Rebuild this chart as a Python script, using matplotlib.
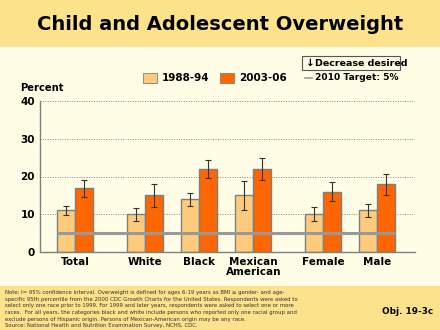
import matplotlib.pyplot as plt
from matplotlib.patches import Rectangle
from matplotlib.lines import Line2D

# ---------- DATA ----------
groups = ["Total", "White", "Black", "Mexican\nAmerican", "Female", "Male"]
group_pos = [0, 1.3, 2.3, 3.3, 4.6, 5.6]

rate_1988 = [11, 10, 14, 15, 10, 11]
low_1988 = [9.8, 8.1, 12.3, 11.2, 8.1, 9.2]
high_1988 = [12.2, 11.6, 15.6, 18.9, 11.8, 12.7]

rate_2003 = [17, 15, 22, 22, 16, 18]
low_2003 = [14.7, 11.9, 19.6, 19.0, 13.5, 15.2]
high_2003 = [19.0, 18.0, 24.3, 24.8, 18.5, 20.6]

target = 5
yticks = [0, 10, 20, 30, 40]

note = ("Note: I= 95% confidence interval. Overweight is defined for ages 6-19 years as BMI \u2265 gender- and age-\n"
        "specific 95th percentile from the 2000 CDC Growth Charts for the United States. Respondents were asked to\n"
        "select only one race prior to 1999. For 1999 and later years, respondents were asked to select one or more\n"
        "races.  For all years, the categories black and white include persons who reported only one racial group and\n"
        "exclude persons of Hispanic origin. Persons of Mexican-American origin may be any race.\n"
        "Source: National Health and Nutrition Examination Survey, NCHS, CDC.")

# ---------- STYLE ----------
BAND = "#FDE28C"
BODY = "#FFFDE6"
LIGHT = "#FDCB7B"
DARK = "#FF6600"
EDGE = "#7F7F7F"
W = 1 / 3

fig = plt.figure(figsize=(4.4, 3.3), dpi=100, facecolor=BODY)

# header and footer bands
fig.patches.append(Rectangle((0, 1 - 47 / 330), 1, 47 / 330, transform=fig.transFigure,
                             facecolor=BAND, edgecolor="none", zorder=0))
fig.patches.append(Rectangle((0, 0), 1, 44 / 330, transform=fig.transFigure,
                             facecolor=BAND, edgecolor="none", zorder=0))

fig.text(0.5, 1 - 24 / 330, "Child and Adolescent Overweight", ha="center", va="center",
         fontsize=14, fontweight="bold", color="black")

ax = fig.add_axes([40 / 440, 1 - 252 / 330, 375 / 440, 151 / 330])
ax.set_facecolor("none")

x1 = [p - W / 2 for p in group_pos]
x2 = [p + W / 2 for p in group_pos]
ax.bar(x1, rate_1988, width=W, color=LIGHT, edgecolor=EDGE, linewidth=1, zorder=2)
ax.bar(x2, rate_2003, width=W, color=DARK, edgecolor=EDGE, linewidth=1, zorder=2)

err1 = [[r - l for r, l in zip(rate_1988, low_1988)], [h - r for r, h in zip(rate_1988, high_1988)]]
err2 = [[r - l for r, l in zip(rate_2003, low_2003)], [h - r for r, h in zip(rate_2003, high_2003)]]
ax.errorbar(x1, rate_1988, yerr=err1, fmt="none", ecolor="#333333", elinewidth=0.8,
            capsize=2.2, capthick=0.8, zorder=3)
ax.errorbar(x2, rate_2003, yerr=err2, fmt="none", ecolor="#333333", elinewidth=0.8,
            capsize=2.2, capthick=0.8, zorder=3)

# 2010 target line
ax.plot([group_pos[0] - W, group_pos[-1] + W], [target, target], color="#999999",
        linewidth=2.2, zorder=4, solid_capstyle="butt")

ax.set_xlim(-0.648, 6.296)
ax.set_ylim(0, 40)
ax.set_yticks(yticks)
ax.set_yticklabels([str(t) for t in yticks], fontsize=7.5, fontweight="bold")
ax.set_xticks(group_pos)
ax.set_xticklabels(groups, fontsize=7.5, fontweight="bold", linespacing=0.95)
ax.tick_params(axis="both", length=0, pad=3.6)
ax.yaxis.grid(True, linestyle=(0, (1, 1.5)), color="#888888", linewidth=0.7, zorder=1)
ax.set_axisbelow(True)
for side in ["top", "right"]:
    ax.spines[side].set_visible(False)
for side in ["left", "bottom"]:
    ax.spines[side].set_color(EDGE)
    ax.spines[side].set_linewidth(1)

fig.text(20 / 440, 1 - 88 / 330, "Percent", ha="left", va="center", fontsize=7.2, fontweight="bold")

# legend
fig.patches.append(Rectangle((143 / 440, 1 - 83 / 330), 14 / 440, 10 / 330, transform=fig.transFigure,
                             facecolor=LIGHT, edgecolor=EDGE, linewidth=0.6))
fig.text(162 / 440, 1 - 78 / 330, "1988-94", ha="left", va="center", fontsize=7.5, fontweight="bold")
fig.patches.append(Rectangle((220 / 440, 1 - 83 / 330), 14 / 440, 10 / 330, transform=fig.transFigure,
                             facecolor=DARK, edgecolor=EDGE, linewidth=0.6))
fig.text(239 / 440, 1 - 78 / 330, "2003-06", ha="left", va="center", fontsize=7.5, fontweight="bold")
fig.lines.append(Line2D([305 / 440, 312 / 440], [1 - 78 / 330, 1 - 78 / 330], transform=fig.transFigure,
                        color="#999999", linewidth=1.2))
fig.text(315 / 440, 1 - 78 / 330, "2010 Target: 5%", ha="left", va="center", fontsize=6.6, fontweight="bold")

fig.patches.append(Rectangle((302 / 440, 1 - 70 / 330), 98 / 440, 14 / 330, transform=fig.transFigure,
                             facecolor="none", edgecolor="#555555", linewidth=0.8))
fig.text(306 / 440, 1 - 63 / 330, "\u2193", ha="left", va="center", fontsize=7.5, fontweight="bold")
fig.text(315 / 440, 1 - 63 / 330, "Decrease desired", ha="left", va="center", fontsize=6.8, fontweight="bold")

# footnote
fig.text(5 / 440, 1 - 290 / 330, note, ha="left", va="top", fontsize=3.9, color="#333333", linespacing=1.42)
fig.text(433 / 440, 1 - 311 / 330, "Obj. 19-3c", ha="right", va="center", fontsize=6.4, fontweight="bold")

fig.savefig("out.png", dpi=100, facecolor=BODY)
